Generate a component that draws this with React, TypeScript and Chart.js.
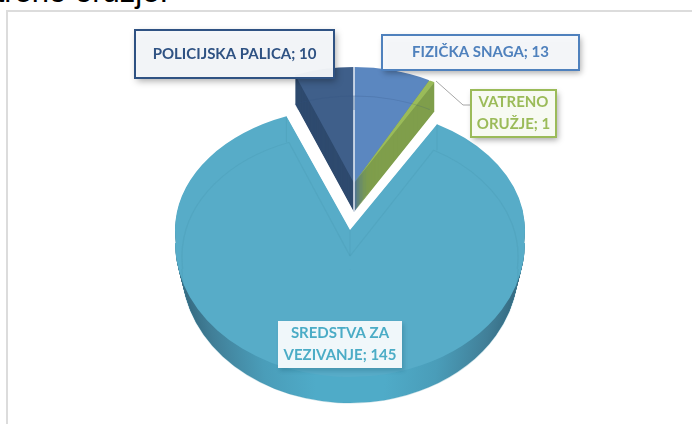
import React, { useEffect, useRef } from "react";
import { Chart, registerables } from "chart.js";

Chart.register(...registerables);

const categories = ["FIZIČKA SNAGA", "VATRENO ORUŽJE", "SREDSTVA ZA VEZIVANJE", "POLICIJSKA PALICA"];
const values = [13, 1, 145, 10];
const topColors = ["#5b87c0", "#9abb59", "#57acc8", "#3f5f8a"];
const wallColors = ["#4a6f9f", "#7f9e4b", "#4ca8c5", "#2e4a6e"];
const labelColors = ["#4f81bd", "#9bbb59", "#4bacc6", "#2f5283"];

// Projection of each slice group: exploded big slice vs. the rear group, with perspective.
const rearGroup = { cx: 354, cy: 183, rx: 162, ryUp: 116, ryDown: 116, band: 13, ryLow: 116, depth: 29, shrink: 0 };
const frontGroup = { cx: 350, cy: 230, rx: 175, ryUp: 122, ryDown: 147, band: 13, ryLow: 134, depth: 26, shrink: 7 };
const groupOf = (i: number) => (i === 2 ? frontGroup : rearGroup);

const labelBoxes = [
  { x: 382, y: 35, w: 197, h: 35, lines: (t: string) => [t], fill: "rgba(247,249,252,0.95)", border: 2, shadow: 6 },
  { x: 471, y: 90, w: 85, h: 47, lines: () => ["VATRENO", "ORUŽJE; 1"], fill: "#f7faf2", border: 2, shadow: 6 },
  { x: 278, y: 321, w: 124, h: 47, lines: () => ["SREDSTVA ZA", "VEZIVANJE; 145"], fill: "rgba(240,247,250,1)", border: 0, shadow: 4 },
  { x: 135, y: 30, w: 199, h: 48, lines: (t: string) => [t], fill: "rgba(245,247,250,0.96)", border: 2, shadow: 7 },
];

function paintArc(ctx: any, chart: any, arc: any, g: any, dy: number, fill: any, stroke: string | null, lw = 0) {
  const saved = arc.options;
  arc.options = { ...saved, backgroundColor: fill, borderColor: stroke || "transparent", borderWidth: stroke ? lw : 0, offset: 0, spacing: 0 };
  const R = arc.outerRadius;
  const split = g.cy + dy;
  const rx = g.rx - (g.shrink * dy) / Math.max(g.depth, 1);
  const bands = [
    [0, split, split, g.ryUp],
    [split, g.band, split, g.ryDown],
    [split + g.band, chart.height, split + g.band, g.ryLow],
  ];
  bands.forEach(([top, h, originY, ry]) => {
    ctx.save();
    ctx.beginPath();
    ctx.rect(0, top, chart.width, h);
    ctx.clip();
    ctx.translate(g.cx, originY);
    ctx.scale(rx / R, ry / R);
    ctx.translate(-arc.x, -arc.y);
    arc.draw(ctx);
    ctx.restore();
  });
  arc.options = saved;
}

const pie3d = {
  id: "pie3d",
  beforeDatasetDraw(chart: any) {
    const ctx = chart.ctx;
    const arcs = chart.getDatasetMeta(0).data;
    const drawOrder = [3, 0, 1, 2];
    drawOrder.forEach((i) => {
      const arc = arcs[i];
      const g = groupOf(i);
      let wall: any = wallColors[i];
      if (i === 2) {
        const R = arc.outerRadius;
        const grad = ctx.createLinearGradient(arc.x - R, 0, arc.x + R, 0);
        grad.addColorStop(0, "#33667c");
        grad.addColorStop(0.1, "#417f98");
        grad.addColorStop(0.25, "#4a9db9");
        grad.addColorStop(0.4, "#4fabc8");
        grad.addColorStop(0.6, "#4fabc8");
        grad.addColorStop(0.75, "#4a9db9");
        grad.addColorStop(0.9, "#417f98");
        grad.addColorStop(1, "#33667c");
        wall = grad;
      }
      for (let d = g.depth; d >= 1; d--) paintArc(ctx, chart, arc, g, d, wall, null);
      paintArc(ctx, chart, arc, g, 0, topColors[i], null);
    });
    // white seam between the two rear slices
    ctx.save();
    ctx.strokeStyle = "#e8eef6";
    ctx.lineWidth = 1.5;
    ctx.beginPath();
    ctx.moveTo(rearGroup.cx, rearGroup.cy + rearGroup.depth);
    ctx.lineTo(rearGroup.cx, rearGroup.cy - rearGroup.ryUp);
    ctx.stroke();
    ctx.restore();
    // see-through rear face: only the curved rim of the rear slices
    [0, 3].forEach((i) => {
      ctx.save();
      ctx.beginPath();
      ctx.rect(0, 0, chart.width, 110);
      ctx.clip();
      ctx.globalAlpha = 0.22;
      paintArc(ctx, chart, arcs[i], rearGroup, rearGroup.depth, "transparent", "#33547f", 1.6);
      ctx.restore();
    });
    // see-through rear face of the big slice
    const big = arcs[2];
    const g = frontGroup;
    ctx.save();
    ctx.globalAlpha = 0.25;
    paintArc(ctx, chart, big, g, g.depth, "transparent", "#4594ad", 1.6);
    ctx.restore();
    ctx.save();
    ctx.strokeStyle = "rgba(69,148,173,0.25)";
    [big.startAngle, big.endAngle].forEach((a: number) => {
      const x = g.cx + Math.cos(a) * g.rx;
      const y = g.cy + Math.sin(a) * g.ryUp;
      ctx.beginPath();
      ctx.moveTo(x, y);
      ctx.lineTo(x, y + g.depth);
      ctx.stroke();
    });
    ctx.beginPath();
    ctx.moveTo(g.cx, g.cy);
    ctx.lineTo(g.cx, g.cy + g.depth);
    ctx.stroke();
    ctx.restore();
    return false;
  },
  afterDraw(chart: any) {
    const ctx = chart.ctx;
    // leader line for the small slice
    ctx.save();
    ctx.strokeStyle = "#a6a6a6";
    ctx.lineWidth = 1;
    ctx.beginPath();
    ctx.moveTo(436, 81);
    ctx.lineTo(463, 105);
    ctx.lineTo(471, 105);
    ctx.stroke();
    ctx.restore();
    categories.forEach((name, i) => {
      const b = labelBoxes[i];
      ctx.save();
      ctx.shadowColor = i === 2 ? "rgba(0,60,80,0.2)" : "rgba(0,0,0,0.35)";
      ctx.shadowBlur = b.shadow;
      ctx.shadowOffsetX = 2;
      ctx.shadowOffsetY = 3;
      ctx.fillStyle = b.fill;
      ctx.fillRect(b.x, b.y, b.w, b.h);
      ctx.shadowColor = "transparent";
      if (b.border) {
        ctx.strokeStyle = labelColors[i];
        ctx.lineWidth = b.border;
        ctx.strokeRect(b.x, b.y, b.w, b.h);
      }
      ctx.fillStyle = labelColors[i];
      ctx.font = "bold 15px Lato";
      ctx.textAlign = "center";
      ctx.textBaseline = "middle";
      const lines = b.lines(`${name}; ${values[i]}`);
      const lh = 22;
      lines.forEach((t: string, k: number) => {
        ctx.fillText(t, b.x + b.w / 2, b.y + b.h / 2 + (k - (lines.length - 1) / 2) * lh);
      });
      ctx.restore();
    });
  },
};

export default function App() {
  const ref = useRef<HTMLCanvasElement>(null);
  useEffect(() => {
    document.body.style.margin = "0";
    document.body.style.overflow = "hidden";
    const chart = new Chart(ref.current as HTMLCanvasElement, {
      type: "pie",
      data: {
        labels: categories,
        datasets: [{ data: values, backgroundColor: topColors, borderWidth: 0 }],
      },
      options: {
        responsive: false,
        animation: false,
        plugins: { legend: { display: false }, tooltip: { enabled: false } },
      },
      plugins: [pie3d],
    } as any);
    return () => chart.destroy();
  }, []);
  return (
    <div style={{ position: "fixed", left: 0, top: 0, width: 692, height: 424, overflow: "hidden", background: "#fff" }}>
      <div style={{ position: "absolute", right: 692 - 168, top: -26, fontFamily: "'Liberation Sans'", fontSize: 31, lineHeight: "36px", whiteSpace: "nowrap", color: "#000" }}>
        vatreno oružje.
      </div>
      <div style={{ position: "absolute", left: 6, top: 10, width: 700, height: 430, border: "2px solid #dcdcdc", boxSizing: "border-box" }} />
      <canvas ref={ref} width={692} height={424} style={{ position: "absolute", left: 0, top: 0 }} />
    </div>
  );
}
